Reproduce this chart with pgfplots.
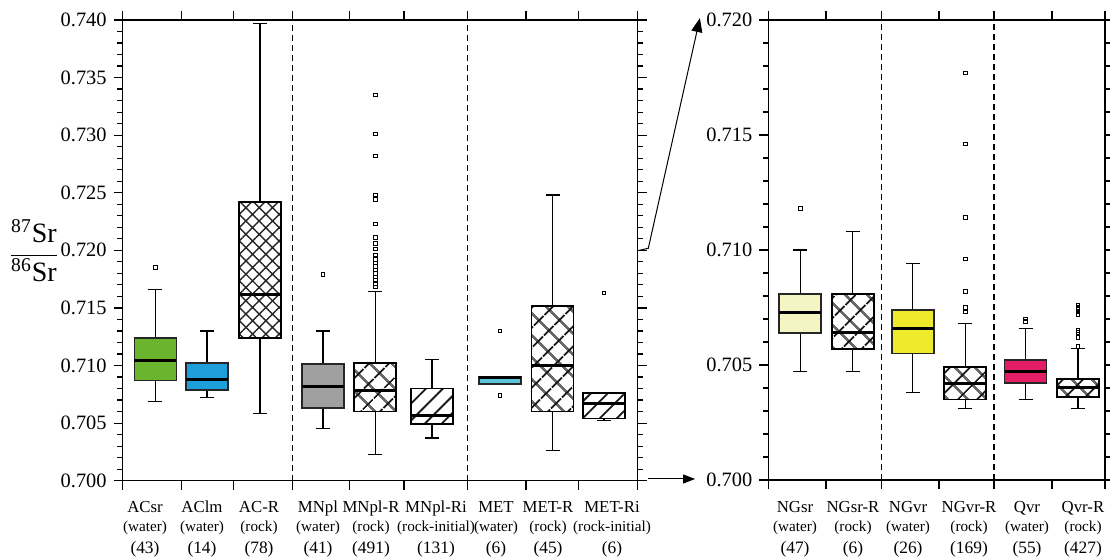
\documentclass[border=0pt]{standalone}
\usepackage{fontspec}
\setmainfont{Liberation Serif}
\usepackage{pgfplots}
\pgfplotsset{compat=1.18}
\usetikzlibrary{patterns.meta,arrows.meta}

\definecolor{cACsr}{HTML}{6BB52E}
\definecolor{cAClm}{HTML}{1E9FDB}
\definecolor{cMNpl}{HTML}{A0A0A0}
\definecolor{cMET}{HTML}{5BC4D9}
\definecolor{cNGsr}{HTML}{F5F5C3}
\definecolor{cNGvr}{HTML}{F0EA2D}
\definecolor{cQvr}{HTML}{E31E66}

\pgfplotsset{
  panel/.style={
    scale only axis, clip=false,
    axis line style={line width=0.65pt},
    tick style={black, line width=0.6pt},
    major tick length=4.5pt, minor tick length=2.7pt,
    tick align=outside,
    xticklabels={}, yticklabel pos=left,
    minor y tick num=4, scaled y ticks=false,
    yticklabel style={font=\fontsize{10.2}{11}\selectfont,
      /pgf/number format/.cd, fixed, fixed zerofill, precision=3, assume math mode=true},
  },
  filled/.style={draw=black!85, line width=0.9pt, line join=miter, fill=#1},
  xhatch/.style={draw=black, line width=0.9pt, line join=miter,
    pattern={Hatch[angle=45,distance=7.4pt,line width=1pt]}, pattern color=black!90},
  xhatchfine/.style={draw=black, line width=0.9pt, line join=miter,
    pattern={Hatch[angle=45,distance=4.7pt,line width=0.7pt]}, pattern color=black!85},
  slash/.style={draw=black, line width=0.9pt, line join=miter,
    pattern={Lines[angle=45,distance=6pt,line width=0.9pt]}, pattern color=black!90},
  sep/.style={black, line width=0.55pt, dash pattern=on 3pt off 2pt},
  outl/.style={black, only marks, mark=square, mark size=0.9pt,
    mark options={solid, line width=0.5pt}},
}

% one box: position, lower whisker, lower quartile, median, upper quartile, upper whisker, box style
\newcommand\bxp[7]{%
  \pgfmathsetmacro\xa{#1-21}\pgfmathsetmacro\xb{#1+21}%
  \pgfmathsetmacro\ca{#1-7}\pgfmathsetmacro\cb{#1+7}%
  \addplot[black, line width=0.6pt] coordinates {(#1,#5) (#1,#6)};
  \addplot[black, line width=0.6pt] coordinates {(#1,#2) (#1,#3)};
  \addplot[black, line width=0.6pt] coordinates {(\ca,#6) (\cb,#6)};
  \addplot[black, line width=0.6pt] coordinates {(\ca,#2) (\cb,#2)};
  \addplot[#7] coordinates {(\xa,#3) (\xb,#3) (\xb,#5) (\xa,#5) (\xa,#3) (\xb,#3)};
  \addplot[black, line width=1.5pt] coordinates {(\xa,#4) (\xb,#4)};
}

% category labels below the axes, x in reference pixels
\newcommand\lab[4]{%
  \node[anchor=base, inner sep=0pt, font=\fontsize{8.4}{9}\selectfont] at ({(#1-122.7)*0.5pt},-16pt) {#2};
  \node[anchor=base, inner sep=0pt, font=\fontsize{7.6}{8}\selectfont] at ({(#1-122.7)*0.5pt},-25.2pt) {#3};
  \node[anchor=base, inner sep=0pt, font=\fontsize{8.7}{9}\selectfont] at ({(#1-122.7)*0.5pt},-36.6pt) {#4};}

\begin{document}
\begin{tikzpicture}
\path[use as bounding box] (-61.35pt,-39.65pt) rectangle (493.65pt,240.35pt);

% --- left panel ---
\begin{axis}[panel, at={(0pt,0pt)}, anchor=south west,
  width=257.5pt, height=230.35pt,
  xmin=0, xmax=515, ymin=0.700, ymax=0.740,
  xtick={0,59,110.6,170,226.6,281.3,344.6,403.3,455.6,515},
  ytick={0.700,0.705,0.710,0.715,0.720,0.725,0.730,0.735,0.740}]
\addplot[sep] coordinates {(170,0.700) (170,0.740)};
\addplot[sep] coordinates {(344.6,0.700) (344.6,0.740)};
\bxp{32.8}{0.7069}{0.7087}{0.7104}{0.7124}{0.7166}{filled=cACsr}     % ACsr
\bxp{84.3}{0.7072}{0.7079}{0.7088}{0.7102}{0.7130}{filled=cAClm}     % AClm
\bxp{137.3}{0.7058}{0.7124}{0.7162}{0.7242}{0.7397}{xhatchfine}      % AC-R
\bxp{200.3}{0.7045}{0.7063}{0.7082}{0.7101}{0.7130}{filled=cMNpl}    % MNpl
\bxp{252.6}{0.7023}{0.7060}{0.7078}{0.7102}{0.7164}{xhatch}          % MNpl-R
\bxp{309.3}{0.7037}{0.7049}{0.7057}{0.7080}{0.7105}{slash}           % MNpl-Ri
\bxp{377.3}{0.7084}{0.7084}{0.7090}{0.7090}{0.7090}{filled=cMET}     % MET
\bxp{429.8}{0.7026}{0.7060}{0.7100}{0.7152}{0.7248}{xhatch}          % MET-R
\bxp{481.3}{0.7052}{0.7054}{0.7067}{0.7076}{0.7076}{slash}           % MET-Ri
\addplot[outl] coordinates {(32.8,0.7185) (200.3,0.7179)
  (377.3,0.7130) (377.3,0.7074) (481.3,0.7163)};
\addplot[outl] coordinates {
  (252.6,0.7335) (252.6,0.7301) (252.6,0.7282) (252.6,0.7248) (252.6,0.7244)
  (252.6,0.7223) (252.6,0.7211) (252.6,0.7206) (252.6,0.7201) (252.6,0.7196)
  (252.6,0.7192) (252.6,0.7189) (252.6,0.7186) (252.6,0.7183) (252.6,0.7180)
  (252.6,0.7177) (252.6,0.7174) (252.6,0.7171) (252.6,0.7168)};
\end{axis}

% --- right panel (zoom 0.700-0.720) ---
\begin{axis}[panel, at={(322.8pt,0.35pt)}, anchor=south west,
  width=168.35pt, height=230pt,
  xmin=0, xmax=336.7, ymin=0.700, ymax=0.720,
  xtick={0,57.7,113,170.7,225.7,283.7,336.7},
  ytick={0.700,0.705,0.710,0.715,0.720}]
\addplot[sep] coordinates {(113,0.700) (113,0.720)};
\addplot[sep] coordinates {(225.7,0.700) (225.7,0.720)};
\bxp{32}{0.7047}{0.7064}{0.7073}{0.7081}{0.7100}{filled=cNGsr}     % NGsr
\bxp{84.5}{0.7047}{0.7057}{0.7064}{0.7081}{0.7108}{xhatch}         % NGsr-R
\bxp{144.5}{0.7038}{0.7055}{0.7066}{0.7074}{0.7094}{filled=cNGvr}  % NGvr
\bxp{197}{0.7031}{0.7035}{0.7042}{0.7049}{0.7068}{xhatch}          % NGvr-R
\bxp{257.2}{0.7035}{0.7042}{0.7047}{0.7052}{0.7066}{filled=cQvr}   % Qvr
\bxp{309.7}{0.7031}{0.7036}{0.7040}{0.7044}{0.7057}{xhatch}        % Qvr-R
\addplot[outl] coordinates {(32,0.7118)
  (197,0.7177) (197,0.7146) (197,0.7114) (197,0.7096) (197,0.7082) (197,0.7075) (197,0.7073)
  (257.2,0.7070) (257.2,0.7069)
  (309.7,0.7076) (309.7,0.7075) (309.7,0.7074) (309.7,0.7073) (309.7,0.7072)
  (309.7,0.7065) (309.7,0.7064) (309.7,0.7062) (309.7,0.7058)};
\end{axis}

% y label
\node[font=\fontsize{14}{16}\selectfont] at (-44.35pt,115pt)
  {$\displaystyle\frac{\hbox{\textsuperscript{87}Sr}}{\hbox{\textsuperscript{86}Sr}}$};

% zoom arrows
\draw[line width=0.5pt, -{Triangle[length=7pt,width=5.5pt]}]
  (257.5pt,115pt) -- (262.8pt,116.2pt) -- (288.6pt,231.3pt);
\draw[line width=0.5pt, -{Triangle[length=6pt,width=4.5pt]}]
  (262.8pt,0.85pt) -- (286.2pt,0.85pt);

% category labels
\lab{145}{ACsr}{(water)}{(43)}
\lab{202}{AClm}{(water)}{(14)}
\lab{259}{AC-R}{(rock)}{(78)}
\lab{318}{MNpl}{(water)}{(41)}
\lab{371}{MNpl-R}{(rock)}{(491)}
\lab{436}{MNpl-Ri}{(rock-initial)}{(131)}
\lab{496}{MET}{(water)}{(6)}
\lab{548}{MET-R}{(rock)}{(45)}
\lab{612}{MET-Ri}{(rock-initial)}{(6)}
\lab{795}{NGsr}{(water)}{(47)}
\lab{853}{NGsr-R}{(rock)}{(6)}
\lab{908}{NGvr}{(water)}{(26)}
\lab{969}{NGvr-R}{(rock)}{(169)}
\lab{1027}{Qvr}{(water)}{(55)}
\lab{1083}{Qvr-R}{(rock)}{(427)}
\end{tikzpicture}
\end{document}
